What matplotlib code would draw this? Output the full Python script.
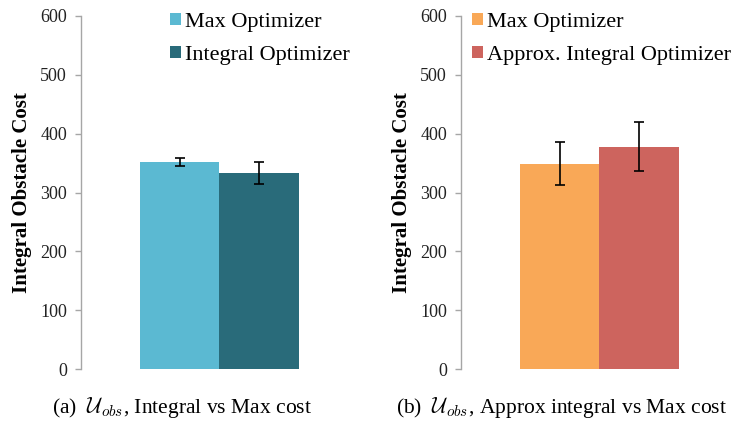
import matplotlib.pyplot as plt

plt.rcParams["font.family"] = "Liberation Serif"
plt.rcParams["mathtext.fontset"] = "cm"

# Left panel: max vs integral optimizer
labels_a = ["Max Optimizer", "Integral Optimizer"]
means_a = [352, 333]
errs_a = [7, 18]
colors_a = ["#5bb9d2", "#296b7a"]

# Right panel: max vs approximate integral optimizer
labels_b = ["Max Optimizer", "Approx. Integral Optimizer"]
means_b = [349, 378]
errs_b = [36, 42]
colors_b = ["#f9a857", "#cd645e"]

captions = [r"(a)  $\mathcal{U}_{obs}$, Integral vs Max cost",
            r"(b)  $\mathcal{U}_{obs}$, Approx integral vs Max cost"]

yticks = [0, 100, 200, 300, 400, 500, 600]


def draw_panel(ax, labels, means, errs, colors, legend_x):
	xs = [-0.5, 0.5]
	for x, m, e, c, lab in zip(xs, means, errs, colors, labels):
		ax.bar(x, m, width=1.0, color=c, label=lab, zorder=2)
		ax.errorbar(x, m, yerr=e, fmt="none", ecolor="black", elinewidth=1.2,
		            capsize=3.5, capthick=1.2, zorder=3)
	ax.set_xlim(-1.75, 1.75)
	ax.set_ylim(0, 600)
	ax.set_yticks(yticks)
	ax.set_xticks([])
	for side in ["top", "right", "bottom"]:
		ax.spines[side].set_visible(False)
	ax.spines["left"].set_color("#a6a6a6")
	ax.spines["left"].set_linewidth(1.0)
	ax.tick_params(axis="y", direction="out", length=4, width=1.0, color="#a6a6a6",
	               labelsize=13, labelcolor="#222222", pad=6)
	ax.set_ylabel("Integral Obstacle Cost", fontsize=15, fontweight="bold", labelpad=6)
	ax.legend(loc="upper left", bbox_to_anchor=(legend_x, 1.035), frameon=False, fontsize=16,
	          handlelength=0.5, handleheight=0.5, handletextpad=0.2, labelspacing=0.62,
	          borderaxespad=0)


fig = plt.figure(figsize=(7.37, 4.21), dpi=100)
ax1 = fig.add_axes([0.1099, 0.1235, 0.3758, 0.8385])
ax2 = fig.add_axes([0.6255, 0.1235, 0.3758, 0.8385])

draw_panel(ax1, labels_a, means_a, errs_a, colors_a, 0.289)
draw_panel(ax2, labels_b, means_b, errs_b, colors_b, 0.007)

fig.text(0.247, 0.032, captions[0], fontsize=15.5, ha="center", va="center")
fig.text(0.762, 0.032, captions[1], fontsize=15.5, ha="center", va="center")

fig.savefig("out.png", dpi=100)
